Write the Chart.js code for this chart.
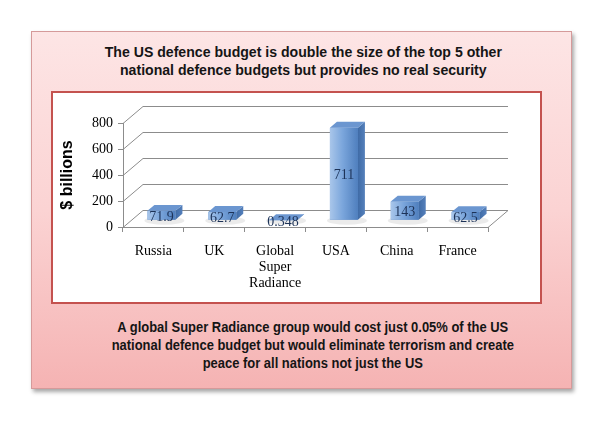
<!DOCTYPE html>
<html>
<head>
<meta charset="utf-8">
<script src="https://cdn.jsdelivr.net/npm/chart.js@4.4.1/dist/chart.umd.min.js"></script>
<style>
  html, body { margin: 0; padding: 0; background: #fff; }
  #page { position: relative; width: 600px; height: 424px; overflow: hidden; }
  #outer {
    position: absolute; left: 31px; top: 31px; width: 539px; height: 356px;
    background: linear-gradient(to bottom, #fde5e5 0%, #fbd3d3 50%, #f5b3b3 100%);
    border: 1px solid #d59a9a;
    box-shadow: 2px 3px 4px rgba(0,0,0,0.35);
  }
  #inner {
    position: absolute; left: 51px; top: 91px; width: 487px; height: 209px;
    background: #fff; border: 2px solid #c4524f;
  }
  .txt {
    position: absolute; left: 31px; width: 541px; text-align: center;
    font-family: "Liberation Sans", Arial, sans-serif;
    font-weight: bold; line-height: 18px; color: #151515;
    transform-origin: 301px 0;
  }
  #title { top: 43px; font-size: 15px; transform: scaleX(0.94); }
  #caption { top: 318px; left: 40px; font-size: 14px; transform: scaleX(0.925); }
  canvas { position: absolute; left: 0; top: 0; }
</style>
</head>
<body>
<div id="page">
  <div id="outer"></div>
  <div id="inner"></div>
  <div class="txt" id="title">The US defence budget is double the size of the top 5 other<br>national defence budgets but provides no real security</div>
  <div class="txt" id="caption">A global Super Radiance group would cost just 0.05% of the US<br>national defence budget but would eliminate terrorism and create<br>peace for all nations not just the US</div>
  <canvas id="chart" width="600" height="424"></canvas>
</div>
<script>
// data
let countries = [["Russia"], ["UK"], ["Global", "Super", "Radiance"], ["USA"], ["China"], ["France"]];
let budgets = [71.9, 62.7, 0.348, 711, 143, 62.5];
let budgetLabels = ["71.9", "62.7", "0.348", "711", "143", "62.5"];
let yTicks = [0, 200, 400, 600, 800];

// fake 3d depth (back wall offset)
const DX = 20, DY = -17;
const F1 = 0.4, F2 = 0.75;

let depthPlugin = {
    id: "depth3d",
    beforeDatasetsDraw(chart) {
        let ctx = chart.ctx;
        let a = chart.chartArea;
        let y = chart.scales.y;
        ctx.save();
        ctx.strokeStyle = "#8c8c8c";
        ctx.lineWidth = 1;
        yTicks.forEach(v => {
            let py = Math.round(y.getPixelForValue(v)) + 0.5;
            ctx.beginPath();
            ctx.moveTo(a.left, py);
            ctx.lineTo(a.left + DX, py + DY);
            ctx.lineTo(a.right + DX, py + DY);
            ctx.stroke();
        });
        let pb = Math.round(y.getPixelForValue(0)) + 0.5;
        ctx.beginPath();
        ctx.moveTo(a.right + DX, pb + DY);
        ctx.lineTo(a.right, pb);
        ctx.stroke();
        ctx.restore();

        // push the front faces back into the depth
        ctx.save();
        ctx.translate(F1 * DX, F1 * DY);
    },
    afterDatasetsDraw(chart) {
        let ctx = chart.ctx;
        ctx.restore();
        let meta = chart.getDatasetMeta(0);
        let sx = (F2 - F1) * DX, sy = (F2 - F1) * DY;
        meta.data.forEach((bar, i) => {
            let p = bar.getProps(["x", "y", "base", "width"], true);
            let l = p.x - p.width / 2 + F1 * DX;
            let r = p.x + p.width / 2 + F1 * DX;
            let t = p.y + F1 * DY;
            let b = p.base + F1 * DY;

            // soft shadow on the floor
            ctx.fillStyle = "rgba(0,0,0,0.08)";
            ctx.beginPath();
            ctx.ellipse((l + r) / 2 + 3, b + 1, (r - l) / 2 + 6, 4, 0, 0, Math.PI * 2);
            ctx.fill();

            // front face
            let g = ctx.createLinearGradient(l, 0, r, 0);
            g.addColorStop(0, "#a9c6ea");
            g.addColorStop(0.45, "#7ba6dc");
            g.addColorStop(1, "#4f7fbe");
            ctx.fillStyle = g;
            ctx.fillRect(l, t, r - l, b - t);

            // side face
            let gs = ctx.createLinearGradient(r, 0, r + sx, 0);
            gs.addColorStop(0, "#3f6ba6");
            gs.addColorStop(1, "#5580bb");
            ctx.fillStyle = gs;
            ctx.beginPath();
            ctx.moveTo(r, t);
            ctx.lineTo(r + sx, t + sy);
            ctx.lineTo(r + sx, b + sy);
            ctx.lineTo(r, b);
            ctx.closePath();
            ctx.fill();

            // top face
            ctx.fillStyle = "#6b96d0";
            ctx.beginPath();
            ctx.moveTo(l, t);
            ctx.lineTo(r, t);
            ctx.lineTo(r + sx, t + sy);
            ctx.lineTo(l + sx, t + sy);
            ctx.closePath();
            ctx.fill();

            // value label
            ctx.fillStyle = "#1d3358";
            ctx.font = "14px 'Liberation Serif', 'Times New Roman', serif";
            ctx.textAlign = "center";
            ctx.textBaseline = "middle";
            ctx.fillText(budgetLabels[i], (l + r) / 2, (t + b) / 2 + 2);
        });
    }
};

let chart = new Chart(document.getElementById("chart"), {
    type: "bar",
    data: {
        labels: countries,
        datasets: [{
            data: budgets,
            backgroundColor: "#6f9bd4",
            categoryPercentage: 1,
            barPercentage: 0.46
        }]
    },
    options: {
        responsive: false,
        animation: false,
        events: [],
        layout: { padding: { left: 58, right: 112, top: 123, bottom: 127 } },
        plugins: { legend: { display: false }, tooltip: { enabled: false } },
        scales: {
            x: {
                afterFit: s => { s.height = 70; },
                grid: { drawOnChartArea: false, color: "#8c8c8c", tickColor: "#8c8c8c", tickLength: 5 },
                border: { display: true, color: "#8c8c8c" },
                ticks: {
                    padding: 11, color: "#000",
                    font: { family: "'Liberation Serif', 'Times New Roman', serif", size: 14, lineHeight: 1.15 }
                }
            },
            y: {
                min: 0, max: 800,
                afterFit: s => { s.width = 65; },
                afterBuildTicks: s => { s.ticks = yTicks.map(v => ({ value: v })); },
                grid: { drawOnChartArea: false, color: "#8c8c8c", tickColor: "#8c8c8c", tickLength: 5 },
                border: { display: true, color: "#8c8c8c" },
                ticks: {
                    padding: 5, color: "#000",
                    font: { family: "'Liberation Serif', 'Times New Roman', serif", size: 14 }
                },
                title: {
                    display: true, text: "$ billions", color: "#000",
                    font: { family: "'Liberation Sans', Arial, sans-serif", size: 16, weight: "bold" },
                    padding: { top: 0, bottom: 0 }
                }
            }
        }
    },
    plugins: [depthPlugin]
});
</script>
</body>
</html>
